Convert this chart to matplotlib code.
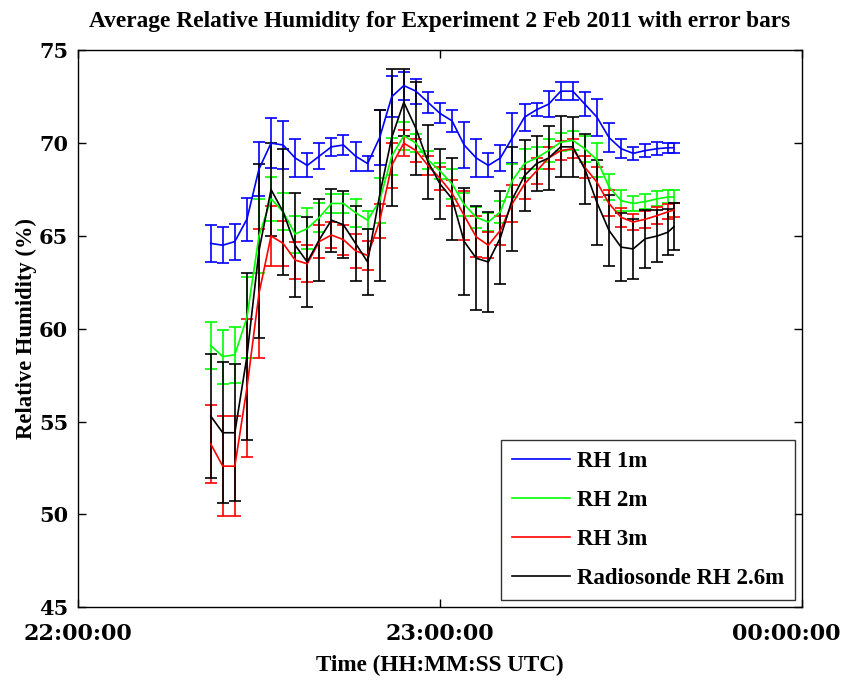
import numpy as np
import pandas as pd
import matplotlib
matplotlib.use("Agg")
import matplotlib.pyplot as plt
import matplotlib.dates as mdates
import matplotlib.transforms as mtransforms

# sample times (UTC), 2 Feb 2011
times = ["22:22:00", "22:24:00", "22:26:00", "22:28:00", "22:30:00", "22:32:00",
         "22:34:00", "22:36:00", "22:38:00", "22:40:00", "22:42:00", "22:44:00",
         "22:46:00", "22:48:00", "22:50:00", "22:52:00", "22:54:00", "22:56:00",
         "22:58:00", "23:00:00", "23:02:00", "23:04:00", "23:06:00", "23:08:00",
         "23:10:00", "23:12:00", "23:14:00", "23:16:00", "23:18:00", "23:20:00",
         "23:22:00", "23:24:00", "23:26:00", "23:28:00", "23:30:00", "23:32:00",
         "23:34:00", "23:36:00", "23:37:45", "23:38:45"]

rh1 = [64.6, 64.5, 64.7, 65.9, 68.6, 70.0, 69.9, 69.2, 68.8, 69.3,
       69.8, 69.9, 69.3, 68.9, 70.3, 72.5, 73.1, 72.8, 72.2, 71.6,
       71.2, 69.9, 69.2, 68.8, 69.2, 70.3, 71.4, 71.8, 72.1, 72.8,
       72.8, 72.1, 71.4, 70.3, 69.7, 69.45, 69.6, 69.7, 69.75, 69.75]
rh1_err = [1.0, 0.97, 0.97, 1.17, 1.45, 1.35, 1.3, 1.0, 0.65, 0.7,
           0.5, 0.55, 0.78, 0.4, 1.5, 1.1, 0.75, 0.67, 0.58, 0.54,
           0.58, 1.25, 1.0, 0.65, 0.68, 1.35, 0.72, 0.35, 0.7, 0.5,
           0.5, 0.63, 1.0, 0.76, 0.5, 0.36, 0.36, 0.36, 0.27, 0.27]

rh2 = [59.1, 58.5, 58.6, 60.6, 65.0, 67.0, 66.3, 65.1, 65.4, 66.0,
       66.75, 66.75, 66.25, 65.85, 66.9, 69.3, 70.4, 70.0, 69.1, 68.5,
       67.8, 66.7, 66.0, 65.75, 66.3, 68.0, 68.9, 69.2, 69.6, 70.05,
       70.15, 69.7, 69.1, 67.65, 66.9, 66.75, 66.85, 67.0, 67.1, 67.1]
rh2_err = [1.27, 1.45, 1.5, 2.2, 2.0, 1.2, 1.0, 1.0, 1.1, 0.8,
           0.5, 0.5, 0.76, 0.5, 1.2, 1.0, 0.75, 0.5, 0.5, 0.45,
           0.8, 0.6, 0.55, 0.5, 0.6, 0.9, 0.8, 0.6, 0.6, 0.5,
           0.5, 0.7, 0.9, 0.7, 0.55, 0.4, 0.4, 0.4, 0.35, 0.35]

rh3 = [53.8, 52.6, 52.6, 56.8, 61.9, 65.0, 64.6, 63.7, 63.5, 64.7,
       65.05, 64.8, 64.2, 63.95, 65.8, 68.8, 70.0, 69.6, 68.8, 68.1,
       67.3, 66.1, 64.95, 64.5, 65.3, 66.75, 67.8, 68.5, 69.2, 69.6,
       69.7, 68.7, 67.9, 66.75, 66.0, 65.75, 65.9, 66.1, 66.3, 66.4]
rh3_err = [2.1, 2.7, 2.7, 3.7, 3.5, 1.6, 1.2, 1.0, 1.0, 0.9,
           0.7, 0.8, 0.9, 0.8, 0.9, 1.2, 0.7, 0.6, 0.5, 0.6,
           0.7, 1.3, 1.1, 0.7, 0.8, 1.0, 0.8, 0.7, 0.6, 0.5,
           0.5, 0.6, 0.8, 0.7, 0.5, 0.45, 0.45, 0.45, 0.4, 0.4]

sonde = [55.3, 54.4, 54.4, 58.5, 64.2, 67.5, 66.3, 64.5, 63.6, 64.8,
         65.85, 65.6, 64.6, 63.6, 67.2, 70.3, 72.2, 70.8, 69.0, 67.8,
         67.0, 64.7, 63.8, 63.6, 64.9, 67.0, 68.25, 68.9, 69.2, 69.8,
         69.8, 68.6, 66.8, 65.3, 64.4, 64.3, 64.85, 65.0, 65.2, 65.5]
sonde_err = [3.35, 3.8, 3.7, 4.5, 4.7, 2.5, 3.4, 2.8, 2.4, 2.2,
             1.7, 1.8, 2.0, 1.8, 4.6, 3.7, 1.8, 2.5, 2.0, 1.9,
             2.2, 2.9, 2.8, 2.7, 2.5, 2.8, 1.9, 1.5, 1.7, 1.65,
             1.6, 1.9, 2.3, 1.9, 1.85, 1.6, 1.55, 1.4, 1.25, 1.25]

t = pd.to_datetime(["2011-02-02 " + s for s in times])

plt.rcParams['font.family'] = ['Liberation Serif', 'DejaVu Serif']
plt.rcParams['font.weight'] = 'bold'

fig = plt.figure(figsize=(8.47, 6.8), dpi=100)
ax = fig.add_axes([0.092, 0.107, 0.855, 0.819])

series = [(rh1, rh1_err, '#0000ff', 'RH 1m'),
          (rh2, rh2_err, '#00ff00', 'RH 2m'),
          (rh3, rh3_err, '#ff0000', 'RH 3m'),
          (sonde, sonde_err, '#000000', 'Radiosonde RH 2.6m')]
for y, e, c, lab in series:
    ax.errorbar(t, y, yerr=e, color=c, lw=1.2, elinewidth=1.2,
                capsize=4.5, capthick=1.2, label=lab)

ax.set_xlim(pd.Timestamp("2011-02-02 22:00:00"), pd.Timestamp("2011-02-03 00:00:00"))
ax.set_ylim(45, 75)
ax.set_yticks([45, 50, 55, 60, 65, 70, 75])
ax.xaxis.set_major_locator(mdates.HourLocator())
ax.xaxis.set_major_formatter(mdates.DateFormatter('%H:%M:%S'))
ax.tick_params(direction='in', top=True, right=True, length=6, width=1,
               labelsize=16, pad=11)
ax.tick_params(axis='y', labelsize=15, pad=7)
for lbl in ax.get_xticklabels() + ax.get_yticklabels():
    lbl.set_family('DejaVu Serif')
    lbl.set_weight('bold')
# keep the last time label inside the figure
fig.canvas.draw()
last = ax.get_xticklabels()[-1]
last.set_transform(last.get_transform() +
                   mtransforms.ScaledTranslation(-16 / 100, 0, fig.dpi_scale_trans))
for sp in ax.spines.values():
    sp.set_linewidth(1.0)

ax.set_title('Average Relative Humidity for Experiment 2 Feb 2011 with error bars',
             fontsize=16.8, fontweight='bold', pad=17)
ax.set_xlabel('Time (HH:MM:SS UTC)', fontsize=16.7, fontweight='bold', labelpad=7.5)
ax.set_ylabel('Relative Humidity (%)', fontsize=16.3, fontweight='bold')
ax.yaxis.set_label_coords(-0.056, 0.5)

handles, labels = ax.get_legend_handles_labels()
handles = [h[0] for h in handles]
leg = ax.legend(handles, labels, loc='lower right', fontsize=16.5, frameon=True,
                fancybox=False, edgecolor='black', handlelength=2.5,
                labelspacing=0.78, borderpad=0.5, handletextpad=0.3,
                borderaxespad=0.3)
leg.get_frame().set_linewidth(1.0)

fig.savefig('out.png', dpi=100)
